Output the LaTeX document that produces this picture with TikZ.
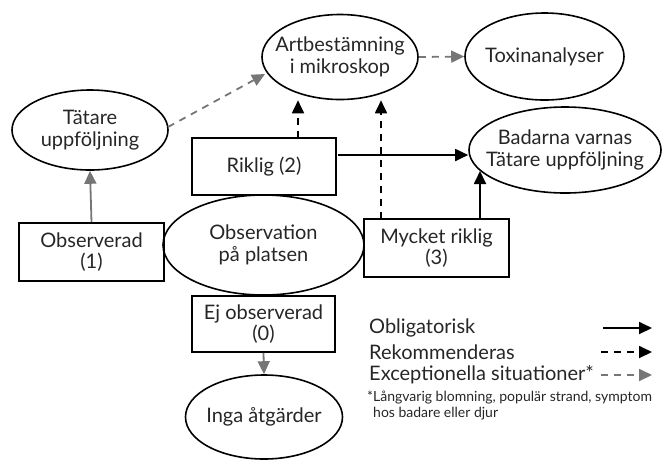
\documentclass[tikz,border=0pt]{standalone}
\usepackage{fontspec}
\setmainfont{Lato}
\usetikzlibrary{arrows.meta,shapes.geometric}
\definecolor{arrowgray}{RGB}{118,118,118}
\begin{document}
\begin{tikzpicture}[x=1pt,y=-1pt,
  every node/.style={font=\fontsize{20}{21.5}\selectfont, text=black!85, align=center, inner sep=0pt},
  oval/.style={draw, ellipse, line width=1.6pt},
  stepbox/.style={draw, rectangle, line width=1.6pt},
  tip/.style={-{Triangle[length=13pt,width=12pt]}},
  must/.style={tip, line width=1.8pt, black},
  advised/.style={tip, line width=1.8pt, black, dash pattern=on 7pt off 6pt},
  rare/.style={tip, line width=1.8pt, arrowgray, dash pattern=on 7pt off 6pt},
  grayline/.style={tip, line width=1.8pt, arrowgray}]
\useasboundingbox (0,0) rectangle (672,459);

% ellipses (outline first, the words set on top so the outline keeps its size)
\node[oval, minimum width=156pt, minimum height=85pt] (art) at (340,57) {};
\node at (art.center) (artt) {Artbestämning\\i mikroskop};
\node[oval, minimum width=159pt, minimum height=87pt] (tox) at (544.5,56.5) {};
\node at (tox.center) (toxt) {Toxinanalyser};
\node[oval, minimum width=192pt, minimum height=86pt] (bad) at (565,150) {};
\node at (bad.center) (badt) {Badarna varnas\\Tätare uppföljning};
\node[oval, minimum width=156pt, minimum height=80pt] (tat) at (90,130) {};
\node at (tat.center) (tatt) {Tätare\\uppföljning};
\node[oval, minimum width=201pt, minimum height=100pt] (obs) at (263.5,245) {};
\node at (obs.center) (obst) {Observation\\på platsen};
\node[oval, minimum width=157pt, minimum height=84pt] (inga) at (264,417) {};
\node at (inga.center) (ingat) {Inga åtgärder};

% level boxes
\node[stepbox, minimum width=144pt, minimum height=57pt] (rik) at (264,166.5) {Riklig (2)};
\node[stepbox, minimum width=145pt, minimum height=58pt] (obsd) at (91.5,252) {Observerad\\(1)};
\node[stepbox, minimum width=145pt, minimum height=58pt] (myc) at (436.5,248) {Mycket riklig\\(3)};
\node[stepbox, minimum width=143pt, minimum height=56pt] (ej) at (263.5,324) {Ej observerad\\(0)};

% connector end points on the outlines
\coordinate (tatout) at (168,127);
\coordinate (artin) at (265,74);
\coordinate (rikup) at (298,138);
\coordinate (rikright) at (338,155);
\coordinate (mycup) at (381,219);
\coordinate (mycbad) at (480,219);
\coordinate (badlow) at (480,171);

% connectors
\draw[grayline] (obsd.north) -- (tat.south);
\draw[rare] (tatout) -- (artin);
\draw[advised] (rikup) -- (rikup |- art.south);
\draw[advised] (mycup) -- (mycup |- art.south);
\draw[must] (rikright) -- (rikright -| bad.west);
\draw[must] (mycbad) -- (badlow);
\draw[rare] (art.east) -- (tox.west);
\draw[grayline] (ej.south) -- (inga.north);

% legend
\node[anchor=west] (l1) at (369,328) {Obligatorisk};
\node[anchor=west] (l2) at (369,352) {Rekommenderas};
\node[anchor=west] (l3) at (369,375) {Exceptionella situationer*};
\coordinate (a1s) at (603,328); \coordinate (a1e) at (652,328);
\coordinate (a2s) at (601,352); \coordinate (a2e) at (652,352);
\coordinate (a3s) at (601,375); \coordinate (a3e) at (652,375);
\draw[must] (a1s) -- (a1e);
\draw[advised] (a2s) -- (a2e);
\draw[rare] (a3s) -- (a3e);
\node[anchor=north west, align=left, font=\fontsize{14}{15.5}\selectfont] (note) at (367,391)
  {*Långvarig blomning, populär strand, symptom\\\hspace*{6pt}hos badare eller djur};
\end{tikzpicture}
\end{document}
